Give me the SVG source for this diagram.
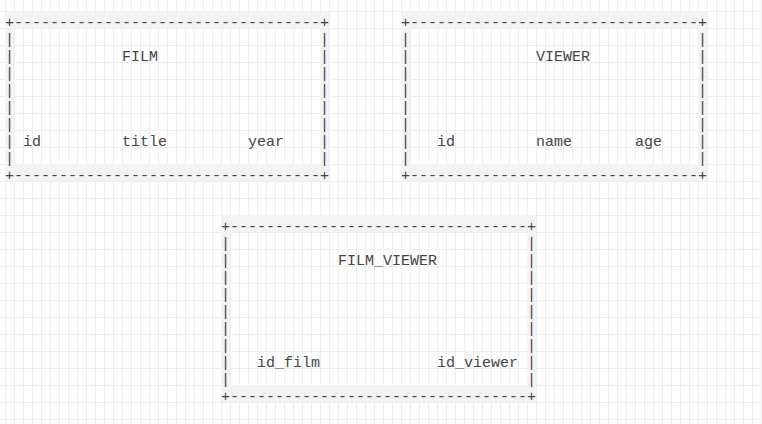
<svg xmlns="http://www.w3.org/2000/svg" width="762" height="424" viewBox="0 0 762 424">
<defs>
<style>
.t{font-family:"Liberation Mono","Courier New",monospace;font-size:15px;fill:#444}
.band{fill:#f3f3f3;fill-rule:evenodd}
</style>
<pattern id="grid" x="5" y="11" width="9" height="17" patternUnits="userSpaceOnUse">
<rect x="0" y="0" width="1" height="17" fill="#eeeeee"/>
<rect x="0" y="0" width="9" height="1" fill="#eeeeee"/>
</pattern>
</defs>
<rect x="0" y="0" width="762" height="424" fill="#ffffff"/>
<rect x="0" y="0" width="762" height="424" fill="url(#grid)"/>
<g id="connectors"/>
<g id="film">
<path class="band" d="M5 11H329V181H5Z M14 28V164H320V28Z"/>
<text class="t" x="5" y="26.5">+----------------------------------+</text>
<text class="t" y="43.5"><tspan x="5">|</tspan><tspan x="320">|</tspan></text>
<text class="t" y="60.5"><tspan x="5">|</tspan><tspan x="122">FILM</tspan><tspan x="320">|</tspan></text>
<text class="t" y="77.5"><tspan x="5">|</tspan><tspan x="320">|</tspan></text>
<text class="t" y="94.5"><tspan x="5">|</tspan><tspan x="320">|</tspan></text>
<text class="t" y="111.5"><tspan x="5">|</tspan><tspan x="320">|</tspan></text>
<text class="t" y="128.5"><tspan x="5">|</tspan><tspan x="320">|</tspan></text>
<text class="t" y="145.5"><tspan x="5">|</tspan><tspan x="23">id</tspan><tspan x="122">title</tspan><tspan x="248">year</tspan><tspan x="320">|</tspan></text>
<text class="t" y="162.5"><tspan x="5">|</tspan><tspan x="320">|</tspan></text>
<text class="t" x="5" y="179.5">+----------------------------------+</text>
</g>
<g id="viewer">
<path class="band" d="M401 11H707V181H401Z M410 28V164H698V28Z"/>
<text class="t" x="401" y="26.5">+--------------------------------+</text>
<text class="t" y="43.5"><tspan x="401">|</tspan><tspan x="698">|</tspan></text>
<text class="t" y="60.5"><tspan x="401">|</tspan><tspan x="536">VIEWER</tspan><tspan x="698">|</tspan></text>
<text class="t" y="77.5"><tspan x="401">|</tspan><tspan x="698">|</tspan></text>
<text class="t" y="94.5"><tspan x="401">|</tspan><tspan x="698">|</tspan></text>
<text class="t" y="111.5"><tspan x="401">|</tspan><tspan x="698">|</tspan></text>
<text class="t" y="128.5"><tspan x="401">|</tspan><tspan x="698">|</tspan></text>
<text class="t" y="145.5"><tspan x="401">|</tspan><tspan x="437">id</tspan><tspan x="536">name</tspan><tspan x="635">age</tspan><tspan x="698">|</tspan></text>
<text class="t" y="162.5"><tspan x="401">|</tspan><tspan x="698">|</tspan></text>
<text class="t" x="401" y="179.5">+--------------------------------+</text>
</g>
<g id="film_viewer">
<path class="band" d="M221 215H536V402H221Z M230 232V385H527V232Z"/>
<rect x="464" y="351" width="9" height="11" fill="#f3f3f3"/>
<text class="t" x="221" y="230.5">+---------------------------------+</text>
<text class="t" y="247.5"><tspan x="221">|</tspan><tspan x="527">|</tspan></text>
<text class="t" y="264.5"><tspan x="221">|</tspan><tspan x="338">FILM_VIEWER</tspan><tspan x="527">|</tspan></text>
<text class="t" y="281.5"><tspan x="221">|</tspan><tspan x="527">|</tspan></text>
<text class="t" y="298.5"><tspan x="221">|</tspan><tspan x="527">|</tspan></text>
<text class="t" y="315.5"><tspan x="221">|</tspan><tspan x="527">|</tspan></text>
<text class="t" y="332.5"><tspan x="221">|</tspan><tspan x="527">|</tspan></text>
<text class="t" y="349.5"><tspan x="221">|</tspan><tspan x="527">|</tspan></text>
<text class="t" y="366.5"><tspan x="221">|</tspan><tspan x="257">id_film</tspan><tspan x="437">id_viewer</tspan><tspan x="527">|</tspan></text>
<text class="t" y="383.5"><tspan x="221">|</tspan><tspan x="527">|</tspan></text>
<text class="t" x="221" y="400.5">+---------------------------------+</text>
</g>
</svg>
